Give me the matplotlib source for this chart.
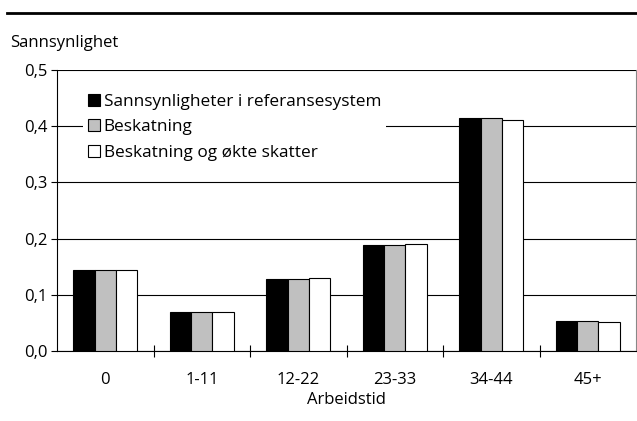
import matplotlib
matplotlib.use("Agg")
import matplotlib.pyplot as plt
import numpy as np
from matplotlib.lines import Line2D
from matplotlib.ticker import FuncFormatter, MultipleLocator

# data
kategorier = ["0", "1-11", "12-22", "23-33", "34-44", "45+"]
referanse = [0.145, 0.070, 0.128, 0.188, 0.415, 0.054]
beskatning = [0.144, 0.069, 0.129, 0.189, 0.414, 0.053]
okte_skatter = [0.144, 0.070, 0.130, 0.190, 0.411, 0.052]
serienavn = ["Sannsynligheter i referansesystem", "Beskatning",
             "Beskatning og økte skatter"]
farger = ["black", "#c0c0c0", "white"]

plt.rcParams['font.family'] = ['Open Sans', 'DejaVu Sans']
fs = 12

fig = plt.figure(figsize=(6.37, 4.21), dpi=100)
ax = fig.add_axes([0.0895, 0.166, 0.909, 0.668])

x = np.arange(len(kategorier))
w = 0.22
for i, (serie, farge) in enumerate(zip([referanse, beskatning, okte_skatter], farger)):
    ax.bar(x + (i - 1) * w, serie, width=w, color=farge, edgecolor="black",
           linewidth=0.8, label=serienavn[i], zorder=3)

ax.set_xlim(-0.5, len(kategorier) - 0.5)
ax.set_ylim(0, 0.5)
ax.yaxis.set_major_locator(MultipleLocator(0.1))
ax.yaxis.set_major_formatter(FuncFormatter(lambda v, p: f"{v:.1f}".replace(".", ",")))
ax.grid(axis="y", color="black", linewidth=0.8, zorder=0)

ax.set_xticks(x)
ax.set_xticklabels(kategorier)
ax.set_xticks(np.arange(0.5, len(kategorier) - 0.5), minor=True)
ax.tick_params(axis="x", which="major", length=0, pad=15, labelsize=fs)
ax.tick_params(axis="x", which="minor", direction="inout", length=9, width=0.8)
ax.tick_params(axis="y", direction="out", length=4, width=0.8, labelsize=fs, pad=3)
for s in ax.spines.values():
    s.set_linewidth(0.8)
ax.spines["right"].set_color("#888888")
ax.spines["top"].set_visible(False)

ax.set_xlabel("Arbeidstid", fontsize=fs, labelpad=3)
fig.text(0.016, 0.88, "Sannsynlighet", fontsize=fs, va="bottom")

leg = ax.legend(loc="upper left", bbox_to_anchor=(0.03, 0.965), fontsize=fs + 0.4,
                frameon=True, fancybox=False, edgecolor="none", framealpha=1,
                handlelength=0.7, handleheight=0.7, handletextpad=0.2,
                labelspacing=0.55, borderpad=0.3)
leg.set_zorder(5)

fig.add_artist(Line2D([0.011, 1.0], [0.969, 0.969], color="black", linewidth=2))

fig.savefig("out.png", dpi=100)
